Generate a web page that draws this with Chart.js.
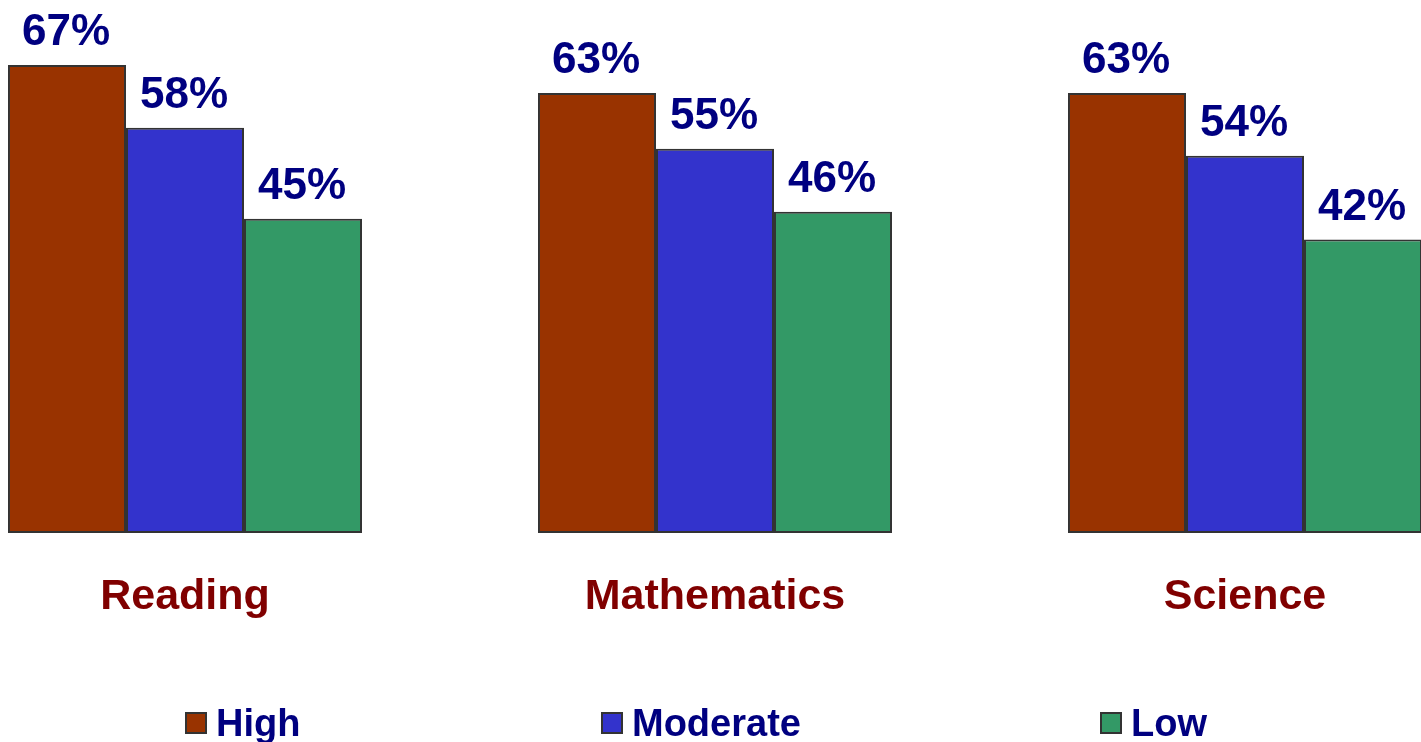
<!DOCTYPE html>
<html>
<head>
<meta charset="utf-8">
<script src="https://cdn.jsdelivr.net/npm/chart.js@4/dist/chart.umd.min.js"></script>
<style>
  html, body { margin: 0; padding: 0; background: #fff; overflow: hidden; }
  #wrap { position: absolute; left: -80px; top: 0; width: 1590px; height: 742px; }
</style>
</head>
<body>
<div id="wrap"><canvas id="barChart"></canvas></div>
<script>
// chart values
const subjects = ['Reading', 'Mathematics', 'Science'];
const seriesNames = ['High', 'Moderate', 'Low'];
const highValues = [67, 63, 63];
const moderateValues = [58, 55, 54];
const lowValues = [45, 46, 42];
const seriesColors = ['#993300', '#3333CC', '#339966'];

const FONT = '"Liberation Sans", Arial, sans-serif';

// percent labels on top of each bar
const valueLabels = {
  id: 'valueLabels',
  afterDatasetsDraw(chart) {
    const ctx = chart.ctx;
    ctx.save();
    ctx.font = 'bold 44px ' + FONT;
    ctx.fillStyle = '#000080';
    ctx.textAlign = 'center';
    ctx.textBaseline = 'alphabetic';
    chart.data.datasets.forEach((ds, i) => {
      chart.getDatasetMeta(i).data.forEach((bar, j) => {
        ctx.fillText(ds.data[j] + '%', bar.x - 1, bar.y - 20);
      });
    });
    ctx.restore();
  }
};

// legend spread along the bottom
const bottomLegend = {
  id: 'bottomLegend',
  afterDraw(chart, args, opts) {
    const ctx = chart.ctx;
    ctx.save();
    ctx.font = 'bold 38px ' + FONT;
    ctx.textBaseline = 'alphabetic';
    ctx.textAlign = 'left';
    chart.data.datasets.forEach((ds, i) => {
      const x = opts.xs[i];
      ctx.fillStyle = ds.backgroundColor;
      ctx.fillRect(x, opts.boxTop, 20, 20);
      ctx.strokeStyle = '#333';
      ctx.lineWidth = 2;
      ctx.strokeRect(x, opts.boxTop, 20, 20);
      ctx.fillStyle = '#000080';
      ctx.fillText(ds.label, x + 30, opts.baseline);
    });
    ctx.restore();
  }
};

const ctx = document.getElementById('barChart').getContext('2d');
new Chart(ctx, {
  type: 'bar',
  data: {
    labels: subjects,
    datasets: [
      { label: seriesNames[0], data: highValues, backgroundColor: seriesColors[0] },
      { label: seriesNames[1], data: moderateValues, backgroundColor: seriesColors[1] },
      { label: seriesNames[2], data: lowValues, backgroundColor: seriesColors[2] }
    ]
  },
  options: {
    responsive: true,
    maintainAspectRatio: false,
    animation: false,
    layout: { padding: { top: 0, bottom: 81.4, left: 0, right: 0 } },
    datasets: {
      bar: {
        categoryPercentage: 0.668,
        barPercentage: 1.0,
        borderColor: '#333',
        borderWidth: 2,
        borderSkipped: false
      }
    },
    scales: {
      x: {
        grid: { display: false, drawTicks: false },
        border: { display: false },
        ticks: {
          color: '#800000',
          padding: 38,
          font: { family: FONT, size: 43, weight: 'bold' }
        }
      },
      y: {
        display: false,
        min: 0,
        max: 76.3
      }
    },
    plugins: {
      legend: { display: false },
      tooltip: { enabled: false },
      bottomLegend: { xs: [266, 682, 1181], boxTop: 713, baseline: 736 }
    }
  },
  plugins: [valueLabels, bottomLegend]
});
</script>
</body>
</html>
